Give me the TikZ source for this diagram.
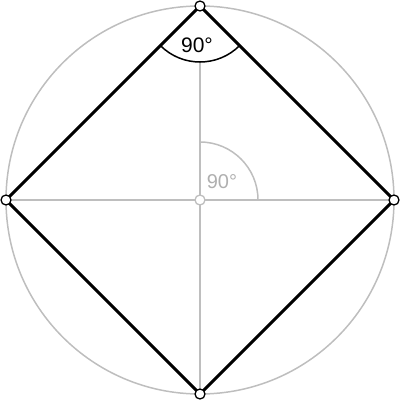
\documentclass[tikz,border=0pt]{standalone}
\usepackage{fontspec}
\setmainfont{Liberation Sans}
\usetikzlibrary{calc}
\definecolor{lgray}{RGB}{190,190,190}
\definecolor{tgray}{RGB}{175,175,175}
\tikzset{
  vmark/.style={circle,draw=black,line width=1.3pt,fill=white,inner sep=0pt,minimum size=10pt},
  cmark/.style={circle,draw=lgray,line width=1.3pt,fill=white,inner sep=0pt,minimum size=10pt},
  guide/.style={draw=lgray,line width=1.5pt},
  edge/.style={draw=black,line width=3pt,line join=miter},
}
\begin{document}
\begin{tikzpicture}[x=1pt,y=1pt]
\useasboundingbox (0,0) rectangle (400,400);
\coordinate (O) at (200,200);
\coordinate (T) at (200,394);
\coordinate (R) at (394,200);
\coordinate (B) at (200,6);
\coordinate (L) at (6,200);
\coordinate (Ttop) at (200,338);
\draw[guide] (O) circle (194);
\draw[guide] (L) -- (R);
\draw[guide] (B) -- (Ttop);
\draw[edge] (T) -- (R) -- (B) -- (L) -- cycle;
\draw[black,line width=1.5pt] ($(T)+(225:56)$) arc (225:315:56);
\draw[lgray,line width=1.5pt] ($(O)+(0:58)$) arc (0:90:58);
\node[font=\fontsize{21}{25}\selectfont,inner sep=0pt] (t1) at (197,355) {90°};
\node[font=\fontsize{20}{24}\selectfont,text=tgray,inner sep=0pt] (t2) at (222,218) {90°};
\node[vmark] (nT) at (T) {};
\node[vmark] (nR) at (R) {};
\node[vmark] (nB) at (B) {};
\node[vmark] (nL) at (L) {};
\node[cmark] (nO) at (O) {};
\end{tikzpicture}
\end{document}
